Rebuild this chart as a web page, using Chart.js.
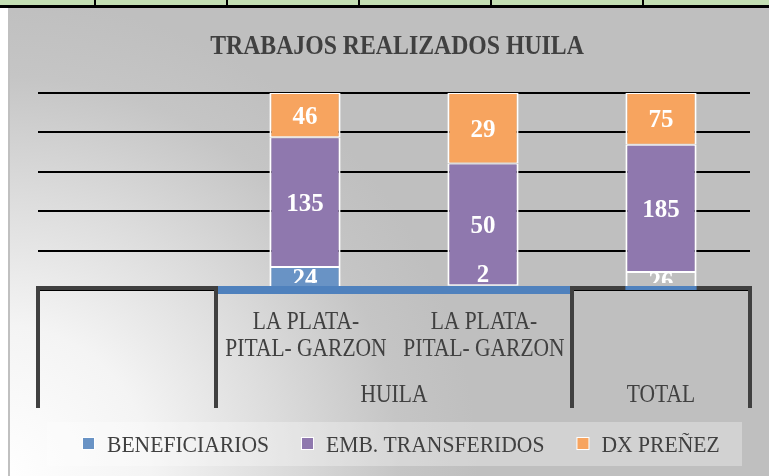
<!DOCTYPE html>
<html>
<head>
<meta charset="utf-8">
<script src="https://cdn.jsdelivr.net/npm/chart.js@4/dist/chart.umd.min.js"></script>
<style>
  html, body { margin: 0; padding: 0; background: #ffffff; }
  #wrap { width: 769px; height: 476px; position: relative; }
</style>
</head>
<body>
<div id="wrap"><canvas id="chart" width="769" height="476"></canvas></div>
<script>
// ---- chart data ----
const chartTitle = 'TRABAJOS REALIZADOS HUILA';
const categoryLines = [[], ['LA PLATA-', 'PITAL- GARZON'], ['LA PLATA-', 'PITAL- GARZON'], []];
const groupLabels = ['', 'HUILA', 'TOTAL'];
const groupSpans = [[0, 0], [1, 2], [3, 3]];
const seriesNames = ['BENEFICIARIOS', 'EMB. TRANSFERIDOS', 'DX PREÑEZ'];
const beneficiarios = [null, 24, 2, 26];
const embTransferidos = [null, 135, 50, 185];
const dxPrenez = [null, 46, 29, 75];
const percentTicks = [0, 20, 40, 60, 80, 100];

// ---- styling ----
const seriesColors = ['#6993c5', '#8f78ae', '#f7a45f'];
const textColor = '#404040';
const frameColor = '#404040';
const axisBlue = '#4f81bd';
const serif = '"Liberation Serif", "Times New Roman", serif';

const rawSeries = [beneficiarios, embTransferidos, dxPrenez];

// 100% stacking: each column expressed as share of its own total
const columnTotals = categoryLines.map((_, i) =>
  rawSeries.reduce((s, arr) => s + (arr[i] == null ? 0 : arr[i]), 0));
const shareOf = arr => arr.map((v, i) => v == null ? null : v / columnTotals[i] * 100);

function drawText(ctx, text, x, y, font, color, sx, align) {
  ctx.save();
  ctx.font = font;
  ctx.fillStyle = color;
  ctx.textBaseline = 'alphabetic';
  ctx.textAlign = 'left';
  const w = ctx.measureText(text).width * sx;
  const left = align === 'center' ? x - w / 2 : x;
  ctx.translate(left, y);
  ctx.scale(sx, 1);
  ctx.fillText(text, 0, 0);
  ctx.restore();
  return w;
}

const decor = {
  id: 'decor',
  beforeDraw(chart) {
    const ctx = chart.ctx;
    const W = chart.width, H = chart.height;
    ctx.save();
    ctx.fillStyle = '#ffffff';
    ctx.fillRect(0, 0, W, H);
    // chart background: soft diagonal gradient, light in the lower left
    const g = ctx.createRadialGradient(0, H, 0, 0, H, 520);
    g.addColorStop(0, '#ffffff');
    g.addColorStop(0.29, '#f4f4f4');
    g.addColorStop(0.54, '#dcdcdc');
    g.addColorStop(0.77, '#c5c5c5');
    g.addColorStop(0.92, '#bfbfbf');
    g.addColorStop(1, '#bfbfbf');
    ctx.fillStyle = g;
    ctx.fillRect(8, 8, W - 8, H - 8);
    ctx.fillStyle = '#c0c0c0';
    ctx.fillRect(8, 8, 2, H - 8);
    // sheet cells above the chart
    ctx.fillStyle = '#c4dfb4';
    ctx.fillRect(0, 0, W, 5);
    ctx.fillStyle = '#000000';
    ctx.fillRect(0, 5, W, 3);
    [95, 227, 359, 491, 643].forEach(x => ctx.fillRect(x - 1, 0, 2, 5));
    ctx.restore();
    // title
    drawText(ctx, chartTitle, 397, 54, 'bold 27px ' + serif, textColor, 0.88, 'center');
  },
  afterDatasetsDraw(chart) {
    const ctx = chart.ctx;
    const area = chart.chartArea;
    const xs = chart.scales.x;
    const bandTop = area.bottom - 4;

    // value labels inside the segments
    ctx.save();
    ctx.beginPath();
    ctx.rect(area.left, 0, area.right - area.left, bandTop - 3);
    ctx.clip();
    rawSeries.forEach((arr, di) => {
      const meta = chart.getDatasetMeta(di);
      meta.data.forEach((el, i) => {
        const v = arr[i];
        if (v == null) return;
        const h = el.base - el.y;
        let cy = (el.y + el.base) / 2;
        if (h < 12) cy = el.y - 12;
        ctx.font = 'bold 25px ' + serif;
        ctx.fillStyle = '#ffffff';
        ctx.textAlign = 'center';
        ctx.textBaseline = 'alphabetic';
        ctx.fillText(String(v), el.x, cy + 25 * 0.338);
      });
    });
    ctx.restore();

    // multi-level category frame
    const n = categoryLines.length;
    const step = (area.right - area.left) / n;
    const edge = k => area.left + k * step;
    const frameBottom = 408;
    ctx.save();
    groupSpans.forEach(([a, b], gi) => {
      const x0 = edge(a), x1 = edge(b + 1);
      if (groupLabels[gi] === 'HUILA') {
        ctx.fillStyle = axisBlue;
        ctx.fillRect(x0 + 2, bandTop, x1 - x0 - 2, 8);
      } else {
        ctx.fillStyle = frameColor;
        ctx.fillRect(x0 - 2, bandTop, x1 - x0 + 4, 4);
      }
    });
    // blue base under the TOTAL column
    const totalEl = chart.getDatasetMeta(0).data[3];
    ctx.fillStyle = axisBlue;
    ctx.fillRect(totalEl.x - totalEl.width / 2, bandTop, totalEl.width, 4);
    // vertical separators at group edges
    ctx.fillStyle = frameColor;
    const seps = new Set();
    groupSpans.forEach(([a, b]) => { seps.add(a); seps.add(b + 1); });
    seps.forEach(k => ctx.fillRect(edge(k) - 2, bandTop, 4, frameBottom - bandTop));
    ctx.restore();

    // category labels
    categoryLines.forEach((lines, i) => {
      const cx = xs.getPixelForValue(i);
      lines.forEach((t, li) => {
        drawText(ctx, t, cx + 1, 328.5 + li * 27, '25px ' + serif, textColor, 0.86, 'center');
      });
    });
    // group labels
    groupSpans.forEach(([a, b], gi) => {
      if (!groupLabels[gi]) return;
      const cx = (edge(a) + edge(b + 1)) / 2;
      drawText(ctx, groupLabels[gi], cx, 401.5, '25px ' + serif, textColor, 0.86, 'center');
    });

    // legend
    ctx.save();
    ctx.fillStyle = 'rgba(255,255,255,0.3)';
    ctx.fillRect(47, 422, 695, 44);
    ctx.restore();
    let lx = 83;
    seriesNames.forEach((name, si) => {
      ctx.save();
      ctx.fillStyle = '#ffffff';
      ctx.fillRect(lx - 1, 437, 13, 13);
      ctx.fillStyle = seriesColors[si];
      ctx.fillRect(lx, 438, 11, 11);
      ctx.restore();
      const w = drawText(ctx, name, lx + 24, 451.5, '24px ' + serif, textColor, 0.9, 'left');
      lx = lx + 24 + w + 33;
    });
  }
};

const datasets = rawSeries.map((arr, si) => ({
  label: seriesNames[si],
  data: shareOf(arr),
  backgroundColor: si === 0
    ? arr.map((v, i) => i === 3 ? 'rgba(0,0,0,0)' : seriesColors[0])
    : seriesColors[si],
  borderColor: '#ffffff',
  borderWidth: { top: 1, bottom: 1, left: 2, right: 2 },
  borderSkipped: false,
  barPercentage: 0.8,
  categoryPercentage: 0.5
}));

new Chart(document.getElementById('chart'), {
  type: 'bar',
  data: { labels: categoryLines, datasets },
  options: {
    responsive: false,
    animation: false,
    devicePixelRatio: 1,
    layout: { padding: { left: 38, right: 19, top: 93, bottom: 186 } },
    plugins: { legend: { display: false }, title: { display: false }, tooltip: { enabled: false } },
    scales: {
      x: { stacked: true, display: false },
      y: {
        stacked: true,
        min: percentTicks[0],
        max: percentTicks[percentTicks.length - 1],
        afterBuildTicks: s => { s.ticks = percentTicks.map(v => ({ value: v })); },
        afterFit: s => { s.width = 0; },
        ticks: { display: false },
        border: { display: false },
        grid: { color: '#000000', lineWidth: 2, drawTicks: false }
      }
    }
  },
  plugins: [decor]
});
</script>
</body>
</html>
